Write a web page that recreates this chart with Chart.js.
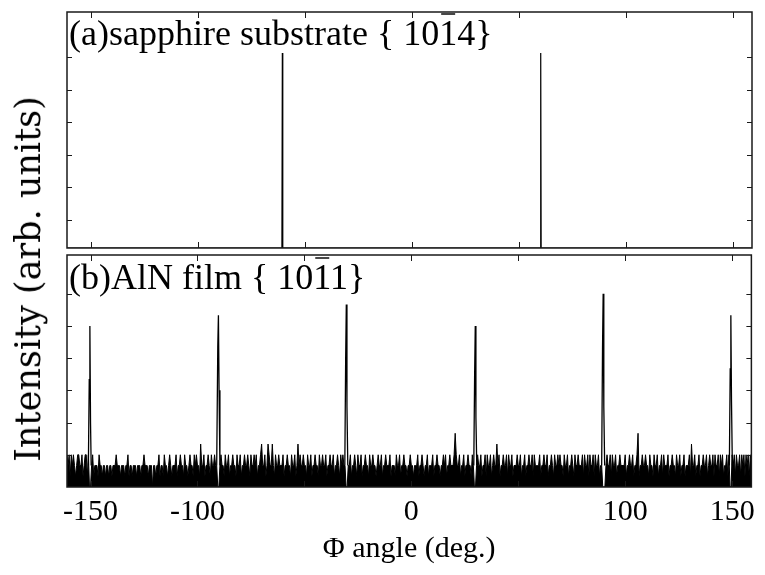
<!DOCTYPE html>
<html>
<head>
<meta charset="utf-8">
<script src="https://cdn.jsdelivr.net/npm/chart.js@4.4.0/dist/chart.umd.min.js"></script>
<style>
    html, body { margin: 0; padding: 0; background: #fff; }
    #wrap { position: relative; width: 765px; height: 575px; overflow: hidden; }
    #boxA { position: absolute; left: 0; top: 0; }
    #boxB { position: absolute; left: 0; top: 252px; }
    #ytitle {
        position: absolute; left: 28px; top: 279px;
        transform: translate(-50%, -50%) rotate(-90deg);
        font: 35px "DejaVu Serif"; color: #000; white-space: nowrap;
    }
</style>
</head>
<body>
<div id="wrap">
    <canvas id="boxA" width="765" height="252"></canvas>
    <canvas id="boxB" width="765" height="323"></canvas>
    <div id="ytitle">Intensity (arb. units)</div>
</div>
<script>
// x axis (phi angle, deg.)
var xMin = -161, xMax = 159;
var xTicks = [-150, -100, -50, 0, 50, 100, 150];
var xLabels = [-150, -100, 0, 100, 150];

// (a) sapphire substrate {10-14}
var yMaxA = 7.24;
var yTicksA = [0.86, 1.86, 2.86, 3.86, 4.86, 5.86];
var sapphireAngle = [-161, -60.6, -60.4, -60.2, 60.1, 60.3, 60.5, 159];
var sapphireInt   = [0, 0, 5.98, 0, 0, 5.98, 0, 0];

// (b) AlN film {10-11}, counts
var yMaxB = 21.6;
var yTicksB = [3, 6, 9, 12, 15, 18];
var peakAngle = [-151.0, -150.6, -150.3, -150.0, -149.7, null,
                 -91.0, -90.5, -90.2, -89.9, -89.5, null,
                 -31.1, -30.7, -30.4, -30.1, -29.7, null,
                 29.2, 29.6, 29.9, 30.2, 30.6, null,
                 89.0, 89.4, 89.7, 90.0, 90.4, null,
                 148.7, 149.1, 149.4, 149.7, 150.1];
var peakCount = [2, 10, 15, 6, 2, null,
                 2, 13, 16, 9, 2, null,
                 2, 12, 17, 7.5, 2, null,
                 2, 10.5, 15, 6.5, 2, null,
                 2, 13, 18, 7.5, 2, null,
                 2, 11, 16, 8, 2];

// background counts, one digit every 0.5 deg from -161, one row per 10 deg
var noiseStart = -161, noiseStep = 0.5;
var noiseRows = [
    "32313232123322312331",
    "30023122213221221221",
    "22122232221222122312",
    "21222122212232221222",
    "02212231221322123212",
    "22312232213221232213",
    "23221422312232132232",
    "20023221322312232213",
    "22312232232132232312",
    "23422312432242132232",
    "22312232213223124232",
    "23221322312232213223",
    "22312232231223213232",
    "20022312232132231223",
    "22132232212322312232",
    "22312221322312232212",
    "23221222312232122312",
    "22312232212232312232",
    "22353223122312232213",
    "20023223122313223123",
    "22423122322313223122",
    "23223122312232231322",
    "22312232231223213223",
    "23221322312232132232",
    "22313223132231322312",
    "20002322313223122322",
    "22312232231223512232",
    "23221322132231223132",
    "22312232213223122312",
    "22314223122312232231",
    "23223132231323122313",
    "00323132231323132313",
    "2"
];

var serif = "'Liberation Serif', 'Times New Roman', serif";

function pts(xs, ys) {
    var out = [];
    for (var i = 0; i < xs.length; i++) {
        out.push({x: xs[i] === null ? NaN : xs[i], y: ys[i]});
    }
    return out;
}

var noisePts = [];
noiseRows.join("").split("").forEach(function (c, i) {
    noisePts.push({x: noiseStart + i * noiseStep, y: Number(c)});
});

// box, inward ticks and panel label
var framePlugin = {
    id: 'frame',
    afterDatasetsDraw: function (chart, args, o) {
        var ctx = chart.ctx, a = chart.chartArea;
        var sx = chart.scales.x, sy = chart.scales.y;
        ctx.save();
        ctx.strokeStyle = '#1a1a1a';
        ctx.lineWidth = 1;
        ctx.beginPath();
        o.xTicks.forEach(function (v) {
            var p = Math.round(sx.getPixelForValue(v)) + 0.5;
            ctx.moveTo(p, a.top); ctx.lineTo(p, a.top + 6);
            ctx.moveTo(p, a.bottom); ctx.lineTo(p, a.bottom - 6);
        });
        o.yTicks.forEach(function (v) {
            var p = Math.round(sy.getPixelForValue(v)) + 0.5;
            ctx.moveTo(a.left, p); ctx.lineTo(a.left + 5, p);
            ctx.moveTo(a.right, p); ctx.lineTo(a.right - 5, p);
        });
        ctx.stroke();
        ctx.lineWidth = 1.5;
        ctx.strokeRect(a.left, a.top, a.right - a.left, a.bottom - a.top);

        ctx.font = '36px ' + serif;
        ctx.fillStyle = '#000';
        ctx.textBaseline = 'alphabetic';
        var x0 = a.left + 2, y0 = a.top + o.baseline;
        var full = o.before + o.bar + o.after;
        ctx.fillText(full, x0, y0);
        var bx = x0 + ctx.measureText(o.before).width;
        var bw = ctx.measureText(o.bar).width;
        ctx.lineWidth = 1.6;
        ctx.beginPath();
        ctx.moveTo(bx + 2, y0 - 31);
        ctx.lineTo(bx + bw - 2, y0 - 31);
        ctx.stroke();
        ctx.restore();
    }
};

new Chart(document.getElementById('boxA'), {
    type: 'line',
    data: {
        datasets: [{
            data: pts(sapphireAngle, sapphireInt),
            borderColor: '#000',
            borderWidth: 1.2,
            pointRadius: 0,
            fill: false
        }]
    },
    options: {
        responsive: false,
        animation: false,
        layout: {padding: {left: 67, right: 13, top: 12, bottom: 4}},
        plugins: {
            legend: {display: false},
            tooltip: {enabled: false},
            frame: {
                xTicks: xTicks, yTicks: yTicksA, baseline: 33,
                before: '(a)sapphire substrate { 10', bar: '1', after: '4}'
            }
        },
        scales: {
            x: {type: 'linear', min: xMin, max: xMax, display: false},
            y: {min: 0, max: yMaxA, display: false}
        }
    },
    plugins: [framePlugin]
});

new Chart(document.getElementById('boxB'), {
    type: 'line',
    data: {
        datasets: [
            {
                data: pts(peakAngle, peakCount),
                borderColor: '#000',
                borderWidth: 1.3,
                pointRadius: 0,
                spanGaps: false,
                fill: false
            },
            {
                data: noisePts,
                borderColor: '#000',
                backgroundColor: '#000',
                borderWidth: 1,
                pointRadius: 0,
                fill: 'origin'
            }
        ]
    },
    options: {
        responsive: false,
        animation: false,
        layout: {padding: {left: 67, right: 13, top: 3, bottom: 1}},
        plugins: {
            legend: {display: false},
            tooltip: {enabled: false},
            frame: {
                xTicks: xTicks, yTicks: yTicksB, baseline: 34,
                before: '(b)AlN film { 10', bar: '1', after: '1}'
            }
        },
        scales: {
            x: {
                type: 'linear', min: xMin, max: xMax,
                afterBuildTicks: function (s) {
                    s.ticks = xTicks.map(function (v) { return {value: v}; });
                },
                grid: {display: false, drawTicks: false},
                border: {display: false},
                ticks: {
                    autoSkip: false, maxRotation: 0, padding: 10, color: '#000',
                    font: {family: serif, size: 30, lineHeight: 1},
                    callback: function (v) { return xLabels.indexOf(v) >= 0 ? String(v) : ''; }
                },
                title: {
                    display: true, text: 'Φ angle (deg.)', color: '#000',
                    font: {family: serif, size: 30, lineHeight: 0.8},
                    padding: {top: 0, bottom: 13}
                }
            },
            y: {min: 0, max: yMaxB, display: false}
        }
    },
    plugins: [framePlugin]
});
</script>
</body>
</html>
